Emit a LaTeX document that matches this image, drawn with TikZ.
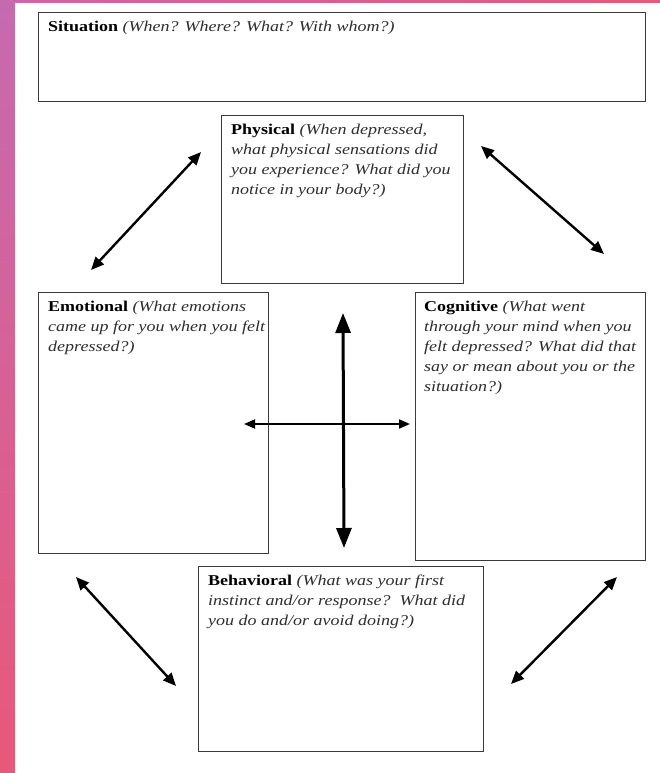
\documentclass[tikz,border=0pt]{standalone}
\usepackage{fontspec}
\setmainfont{Liberation Serif}[FakeStretch=1.2]
\usetikzlibrary{arrows.meta}
\definecolor{edgeline}{HTML}{3A3A3A}
\definecolor{bodytext}{HTML}{2E2E2E}
\definecolor{bandtop}{HTML}{C66AB0}
\definecolor{bandbot}{HTML}{E8587A}
\begin{document}
\begin{tikzpicture}[x=1pt,y=-1pt,
  box/.style={draw=edgeline,line width=1.3pt,fill=white,anchor=north west,inner sep=0pt},
  prompt/.style={anchor=north west,align=left,inner sep=0pt,text=bodytext,
    font=\fontsize{15}{20}\selectfont},
  twoway/.style={line width=2.4pt,black,{Triangle[length=13pt,width=11pt]}-{Triangle[length=13pt,width=11pt]}},
  thinway/.style={line width=1.8pt,black,{Triangle[length=11pt,width=9pt]}-{Triangle[length=11pt,width=9pt]}},
  bigway/.style={line width=3pt,black,{Triangle[length=20pt,width=15pt]}-{Triangle[length=20pt,width=15pt]}}]
% page and coloured frame strips
\useasboundingbox (0,0) rectangle (660,773);
\fill[white] (0,0) rectangle (660,773);
\shade[top color=bandtop,bottom color=bandbot] (0,0) rectangle (15,773);
\shade[left color=bandtop!80!bandbot,right color=bandbot] (15,0) rectangle (660,3);
% boxes
\node[box,minimum width=607pt,minimum height=89pt] (sit) at (38,12) {};
\node[box,minimum width=242pt,minimum height=168pt] (phy) at (221,115) {};
\node[box,minimum width=230pt,minimum height=261pt] (emo) at (38,292) {};
\node[box,minimum width=230pt,minimum height=268pt] (cog) at (415,292) {};
\node[box,minimum width=285pt,minimum height=185pt] (beh) at (198,566) {};
% prompts
\node[prompt] (sittext) at ([xshift=10pt,yshift=-9pt]sit.north west)
  {\textbf{\color{black}Situation} \textit{(When? Where? What? With whom?)}};
\node[prompt] (phytext) at ([xshift=10pt,yshift=-9pt]phy.north west)
  {\textbf{\color{black}Physical} \textit{(When depressed,}\\
   \textit{what physical sensations did}\\
   \textit{you experience? What did you}\\
   \textit{notice in your body?)}};
\node[prompt] (emotext) at ([xshift=10pt,yshift=-9pt]emo.north west)
  {\textbf{\color{black}Emotional} \textit{(What emotions}\\
   \textit{came up for you when you felt}\\
   \textit{depressed?)}};
\node[prompt] (cogtext) at ([xshift=9pt,yshift=-9pt]cog.north west)
  {\textbf{\color{black}Cognitive} \textit{(What went}\\
   \textit{through your mind when you}\\
   \textit{felt depressed? What did that}\\
   \textit{say or mean about you or the}\\
   \textit{situation?)}};
\node[prompt] (behtext) at ([xshift=10pt,yshift=-9pt]beh.north west)
  {\textbf{\color{black}Behavioral} \textit{(What was your first}\\
   \textit{instinct and/or response?\ \ What did}\\
   \textit{you do and/or avoid doing?)}};
% arrow end points
\coordinate (tlA) at (91,270);  \coordinate (tlB) at (201,152);
\coordinate (trA) at (481,146); \coordinate (trB) at (604,254);
\coordinate (blA) at (76,577);  \coordinate (blB) at (176,686);
\coordinate (brA) at (617,577); \coordinate (brB) at (511,684);
\coordinate (vtop) at (343,313); \coordinate (vbot) at (344,548);
\coordinate (hl) at (244,424);  \coordinate (hr) at (410,424);
% arrows
\draw[twoway] (tlA) -- (tlB);
\draw[twoway] (trA) -- (trB);
\draw[twoway] (blA) -- (blB);
\draw[twoway] (brA) -- (brB);
\draw[thinway] (hl) -- (hr);
\draw[bigway] (vtop) -- (vbot);
\end{tikzpicture}
\end{document}
